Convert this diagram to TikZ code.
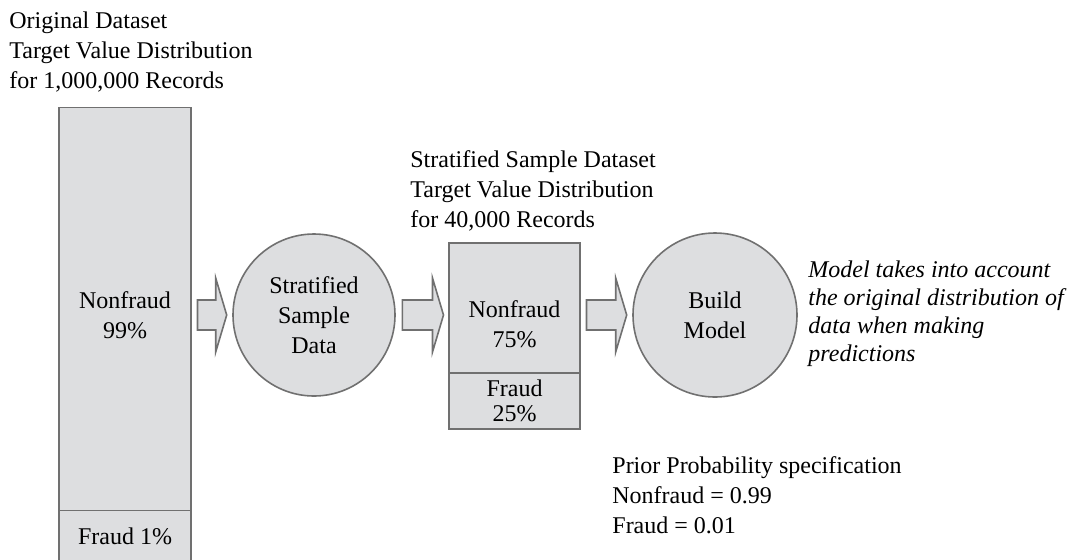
\documentclass[tikz,border=0pt]{standalone}
\usepackage{fontspec}
\setmainfont{Liberation Serif}
\usetikzlibrary{positioning,calc}
\definecolor{panelgray}{RGB}{221,222,224}
\definecolor{linegray}{RGB}{112,112,112}

\begin{document}
\begin{tikzpicture}[x=0.5pt,y=-0.5pt,
    every node/.style={font=\fontsize{12}{15}\selectfont},
    panel/.style={draw=linegray,fill=panelgray,line width=0.8pt,outer sep=0pt,inner sep=0pt,align=center},
    disc/.style={circle,draw=linegray,fill=panelgray,line width=0.8pt,inner sep=0pt,align=center},
    caption/.style={align=left,inner sep=0pt,anchor=base west},
    blockarrow/.style={draw=linegray,fill=panelgray,line width=0.8pt,
      to path={let \p1=(\tikztostart.east), \p2=(\tikztotarget.west), \p3=(samp.center) in
        (\x1+3.25pt,\y3+7.5pt) -- (\x2-8.25pt,\y3+7.5pt) -- (\x2-8.25pt,\y3+18.5pt)
        -- (\x2-2.75pt,\y3) -- (\x2-8.25pt,\y3-18.5pt) -- (\x2-8.25pt,\y3-7.5pt)
        -- (\x1+3.25pt,\y3-7.5pt) -- cycle}}]

        \useasboundingbox (0,0) rectangle (1071,559);

        % Define boxes and circles
        \node[panel,minimum width=66pt,minimum height=201.5pt] (orig) at (125,309) {};
        \node (origtext) [align=center] at (125,315) {Nonfraud\\99\%};
        \node[panel,minimum width=66pt,minimum height=26pt] (origfraud) [below=0pt of orig] {Fraud 1\%};
        \node[disc,minimum size=81pt] (samp) at (314,315) {Stratified\\Sample\\Data};
        \node[panel,minimum width=65.5pt,minimum height=65pt] (strat) at (514.5,308) {};
        \node (strattext) [align=center] at (514.5,324) {Nonfraud\\75\%};
        \node[panel,minimum width=65.5pt,minimum height=28pt] (stratfraud) [below=0pt of strat] {Fraud\\[-2.5pt]25\%};
        \node[disc,minimum size=82pt] (build) at (715,315) {Build\\Model};

        % Captions
        \node[caption] (origcap) at (9,88) {Original Dataset\\Target Value Distribution\\for 1,000,000 Records};
        \node[caption] (stratcap) at (410,227) {Stratified Sample Dataset\\Target Value Distribution\\for 40,000 Records};
        \node[caption,font=\fontsize{12}{14}\selectfont\itshape] (modelnote) at (808,361)
            {Model takes into account\\the original distribution of\\data when making\\predictions};
        \node[caption] (priorcap) at (612,533) {Prior Probability specification\\Nonfraud = 0.99\\Fraud = 0.01};

        % Draw block arrows
        \path
            (orig) edge[blockarrow] (samp)
            (samp) edge[blockarrow] (strat)
            (strat) edge[blockarrow] (build);

\end{tikzpicture}
\end{document}
